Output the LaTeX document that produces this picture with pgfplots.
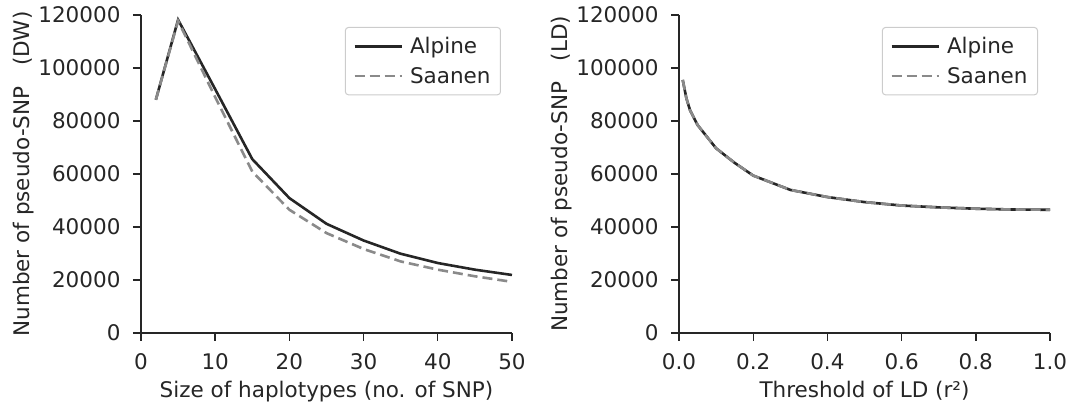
\documentclass[border=0pt]{standalone}
\usepackage{fontspec}
\setmainfont{DejaVu Sans}
\usepackage{pgfplots}
\pgfplotsset{compat=1.18}
\definecolor{spine}{HTML}{262626}
\definecolor{saanen}{HTML}{8A8A8A}
\newcommand{\bigf}{\fontsize{21.5}{26}\selectfont}
\pgfplotsset{
  goat/.style={
    scale only axis, width=371pt, height=318pt,
    axis x line*=bottom, axis y line*=left,
    axis line style={spine, line width=1.6pt},
    every tick/.style={spine, line width=1.4pt},
    tick align=outside, major tick length=8pt,
    /pgf/number format/assume math mode=true,
    ymin=0, ymax=120000, ytick={0,20000,...,120000},
    scaled y ticks=false,
    yticklabel style={/pgf/number format/fixed, /pgf/number format/1000 sep={}, xshift=-9pt},
    xticklabel style={yshift=-9pt},
    tick label style={text=spine, font=\bigf},
    label style={text=spine, font=\bigf},
    ylabel style={yshift=-2pt},
    xlabel style={yshift=-5pt},
    legend cell align=left,
    legend style={draw=black!20, rounded corners=3pt, line width=1pt,
      font=\bigf, text=spine, row sep=8pt, column sep=5pt,
      inner xsep=8pt, inner ysep=8pt},
    legend image code/.code={\draw[#1] (0pt,0pt) -- (47pt,0pt);},
    clip=false,
  },
  alp/.style={spine, line width=2.6pt},
  saa/.style={saanen, line width=2.6pt, dash pattern=on 10pt off 5pt},
}
\begin{document}
\begin{tikzpicture}
\path (-141pt,-72pt) rectangle (930pt,333pt);
\begin{axis}[goat,
  xmin=0, xmax=50, xtick={0,10,...,50},
  xlabel={Size of haplotypes (no. of SNP)},
  ylabel={Number of pseudo-SNP\ \ \ (DW)},
  legend style={at={(1,1)}, anchor=north east, xshift=-11pt, yshift=-12pt},
]
\addplot[alp] coordinates {(2,88000) (5,118200) (10,92000) (15,65600) (20,50900) (25,41200) (30,34900) (35,29900) (40,26400) (45,23900) (50,21900)};
\addplot[saa] coordinates {(2,88000) (5,117800) (10,89000) (15,60900) (20,46500) (25,37700) (30,31700) (35,27000) (40,23900) (45,21400) (50,19300)};
\legend{Alpine, Saanen}
\end{axis}
\begin{axis}[goat, xshift=538pt,
  xmin=0, xmax=1, xtick={0,0.2,...,1.0},
  xticklabel style={/pgf/number format/fixed, /pgf/number format/fixed zerofill, /pgf/number format/precision=1},
  xlabel={Threshold of LD (r²)},
  ylabel={Number of pseudo-SNP\ \ \ (LD)},
  legend style={at={(1,1)}, anchor=north east, xshift=-12pt, yshift=-12pt},
]
\addplot[alp] coordinates {(0.01,95500) (0.02,88500) (0.03,84000) (0.05,78500) (0.1,69700) (0.15,64200) (0.2,59400) (0.3,54000) (0.4,51300) (0.5,49400) (0.6,48100) (0.7,47400) (0.8,46900) (0.9,46600) (1.0,46500)};
\addplot[saa] coordinates {(0.01,95500) (0.02,88500) (0.03,84000) (0.05,78500) (0.1,69700) (0.15,64200) (0.2,59400) (0.3,54000) (0.4,51300) (0.5,49400) (0.6,48100) (0.7,47400) (0.8,46900) (0.9,46600) (1.0,46500)};
\legend{Alpine, Saanen}
\end{axis}
\end{tikzpicture}
\end{document}
